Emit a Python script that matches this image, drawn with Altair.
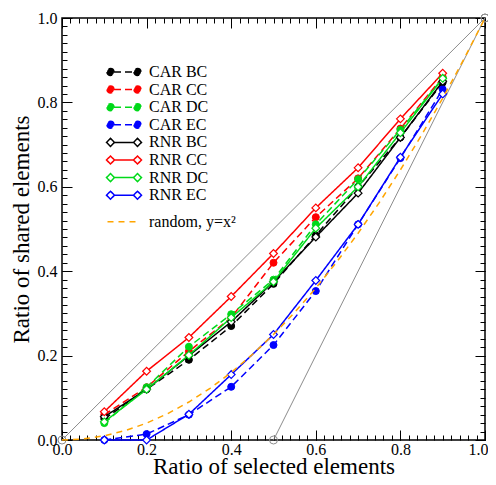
import altair as alt
import pandas as pd

# ---------------- data ----------------
x_vals = [0.1, 0.2, 0.3, 0.4, 0.5, 0.6, 0.7, 0.8, 0.9]
car_bc = [0.05, 0.12, 0.19, 0.27, 0.37, 0.485, 0.60, 0.717, 0.847]
car_cc = [0.06, 0.125, 0.21, 0.29, 0.42, 0.528, 0.62, 0.738, 0.86]
car_dc = [0.04, 0.125, 0.221, 0.298, 0.38, 0.511, 0.618, 0.735, 0.857]
car_ec = [0.0, 0.014, 0.06, 0.126, 0.225, 0.353, 0.511, 0.668, 0.831]
rnr_bc = [0.055, 0.12, 0.20, 0.28, 0.375, 0.481, 0.585, 0.717, 0.85]
rnr_cc = [0.067, 0.163, 0.243, 0.34, 0.442, 0.55, 0.645, 0.761, 0.869]
rnr_dc = [0.043, 0.12, 0.201, 0.29, 0.375, 0.502, 0.60, 0.728, 0.857]
rnr_ec = [0.0, 0.0, 0.061, 0.155, 0.25, 0.378, 0.511, 0.67, 0.82]

rand_x = [0.0, 0.05, 0.1, 0.15, 0.2, 0.25, 0.3, 0.35, 0.4, 0.45, 0.5,
          0.55, 0.6, 0.65, 0.7, 0.75, 0.8, 0.85, 0.9, 0.95, 1.0]
rand_y = [0.0, 0.0025, 0.01, 0.0225, 0.04, 0.0625, 0.09, 0.1225, 0.16, 0.2025, 0.25,
          0.3025, 0.36, 0.4225, 0.49, 0.5625, 0.64, 0.7225, 0.81, 0.9025, 1.0]

ref_names = ["diag", "diag", "steep", "steep"]
ref_x = [0.0, 1.0, 0.5, 1.0]
ref_y = [0.0, 1.0, 0.0, 1.0]

car_names = ["CAR BC", "CAR CC", "CAR DC", "CAR EC"]
rnr_names = ["RNR BC", "RNR CC", "RNR DC", "RNR EC"]
rand_name = "random, y=x\u00b2"
series_names = car_names + rnr_names + [rand_name]

major_ticks = [0.0, 0.2, 0.4, 0.6, 0.8, 1.0]
minor_ticks = [round(i * 0.02, 2) for i in range(51)]

# ---------------- styles ----------------
BLACK, RED, GREEN, BLUE, ORANGE, GREY = "#000000", "#FF0000", "#00D91A", "#0000FF", "#FFA500", "#8C8C8C"
stroke_range = [BLACK, RED, GREEN, BLUE, BLACK, RED, GREEN, BLUE, ORANGE]
fill_range = [BLACK, RED, GREEN, BLUE, "#FFFFFF", "#FFFFFF", "#FFFFFF", "#FFFFFF", "transparent"]
dash_range = [[7, 4]] * 4 + [[1, 0]] * 4 + [[6, 5]]


def circ(cx, r):
    return f"M{cx - r},0A{r},{r},0,1,0,{cx + r},0A{r},{r},0,1,0,{cx - r},0Z"


def diam(cx, d):
    return f"M{cx - d},0L{cx},{-d}L{cx + d},0L{cx},{d}Z"


car_path = "M-2.0,0L2.0,0" + circ(-2.7, 0.7) + circ(2.7, 0.7)
rnr_path = "M-1.9,0L1.9,0" + diam(-2.7, 0.8) + diam(2.7, 0.8)
rand_path = "M0,-2.8M-3.3,0L2.7,0"
shape_range = [car_path] * 4 + [rnr_path] * 4 + [rand_path]

FONT = "Liberation Serif"

# ---------------- tables ----------------
car_df = pd.DataFrame([
    {"series": n, "x": xv, "y": yv}
    for n, ys in zip(car_names, [car_bc, car_cc, car_dc, car_ec])
    for xv, yv in zip(x_vals, ys)
])
rnr_df = pd.DataFrame([
    {"series": n, "x": xv, "y": yv}
    for n, ys in zip(rnr_names, [rnr_bc, rnr_cc, rnr_dc, rnr_ec])
    for xv, yv in zip(x_vals, ys)
])
rand_df = pd.DataFrame({"x": rand_x, "y": rand_y})
ref_df = pd.DataFrame({"line": ref_names, "x": ref_x, "y": ref_y})
legend_df = pd.DataFrame({"series": series_names, "x": [0.5] * 9, "y": [0.5] * 9})

xs = alt.Scale(domain=[0, 1], nice=False, zero=False)
ys = alt.Scale(domain=[0, 1], nice=False, zero=False)
stroke_scale = alt.Scale(domain=series_names, range=stroke_range)
fill_scale = alt.Scale(domain=series_names, range=fill_range)
dash_scale = alt.Scale(domain=series_names, range=dash_range)
shape_scale = alt.Scale(domain=series_names, range=shape_range)

common_label = dict(values=major_ticks, format=".1f", ticks=False, tickSize=0, domain=False,
                    grid=False, labelFlush=False, labelFont=FONT, labelFontSize=16,
                    labelColor="black", titleFont=FONT, titleFontSize=23,
                    titleFontWeight="normal", titleColor="black")

x_label_axis = alt.Axis(
    orient="bottom", labelPadding=1, title="Ratio of selected elements", titlePadding=-2,
    labelAlign={"condition": {"test": "datum.value >= 1", "value": "right"}, "value": "center"},
    labelOffset={"condition": {"test": "datum.value >= 1", "value": 3}, "value": 0},
    **common_label,
)
y_label_axis = alt.Axis(
    orient="left", labelPadding=5, title="Ratio of shared elements", titlePadding=4,
    **common_label,
)


def tick_axis(orient, vals, size):
    return alt.Axis(orient=orient, values=vals, ticks=True, tickSize=size, offset=-size,
                    tickColor="black", tickWidth=1, labels=False, domain=False, grid=False,
                    title=None)


def XE(axis):
    return alt.X("x:Q", scale=xs, axis=axis)


def YE(axis):
    return alt.Y("y:Q", scale=ys, axis=axis)


legend_layer = alt.Chart(legend_df).transform_filter("false").mark_point(opacity=1).encode(
    x=XE(None), y=YE(None),
    shape=alt.Shape("series:N", scale=shape_scale, legend=alt.Legend(title=None)),
    stroke=alt.Stroke("series:N", scale=stroke_scale, legend=alt.Legend(title=None)),
    fill=alt.Fill("series:N", scale=fill_scale, legend=alt.Legend(title=None)),
    strokeDash=alt.StrokeDash("series:N", scale=dash_scale, legend=alt.Legend(title=None)),
)

ref_lines = alt.Chart(ref_df).mark_line(color=GREY, strokeWidth=1).encode(
    x=XE(x_label_axis),
    y=YE(y_label_axis),
    detail="line:N",
)
ref_pts = alt.Chart(ref_df).mark_point(shape="circle", size=64, color=GREY, strokeWidth=1,
                                       opacity=1).encode(x=XE(None), y=YE(None))

car_lines = alt.Chart(car_df).mark_line(strokeWidth=1.5).encode(
    x=XE(tick_axis("bottom", major_ticks, 10)),
    y=YE(tick_axis("left", major_ticks, 10)),
    stroke=alt.Stroke("series:N", scale=stroke_scale),
    strokeDash=alt.StrokeDash("series:N", scale=dash_scale),
)
car_pts = alt.Chart(car_df).mark_point(shape="circle", size=49, strokeWidth=1, opacity=1).encode(
    x=XE(tick_axis("bottom", minor_ticks, 5)),
    y=YE(tick_axis("left", minor_ticks, 5)),
    stroke=alt.Stroke("series:N", scale=stroke_scale),
    fill=alt.Fill("series:N", scale=fill_scale),
)
rnr_lines = alt.Chart(rnr_df).mark_line(strokeWidth=1.5).encode(
    x=XE(tick_axis("top", major_ticks, 10)),
    y=YE(tick_axis("right", major_ticks, 10)),
    stroke=alt.Stroke("series:N", scale=stroke_scale),
    strokeDash=alt.StrokeDash("series:N", scale=dash_scale),
)
rnr_pts = alt.Chart(rnr_df).mark_point(shape="diamond", size=60, strokeWidth=1.2, opacity=1).encode(
    x=XE(tick_axis("top", minor_ticks, 5)),
    y=YE(tick_axis("right", minor_ticks, 5)),
    stroke=alt.Stroke("series:N", scale=stroke_scale),
    fill=alt.Fill("series:N", scale=fill_scale),
)
rand_line = alt.Chart(rand_df).mark_line(color=ORANGE, strokeDash=[6, 5], strokeWidth=1.5).encode(
    x=XE(None), y=YE(None)
)

chart = alt.layer(
    legend_layer, ref_lines, ref_pts, car_lines, car_pts, rnr_lines, rnr_pts, rand_line
).resolve_axis(
    x="independent", y="independent"
).properties(
    width=423, height=422,
    autosize=alt.AutoSizeParams(type="none"),
    padding={"left": 54, "top": 10, "right": 3, "bottom": 37},
    background="white",
).configure_view(
    stroke="black", strokeWidth=1.5
).configure_legend(
    orient="none", legendX=54, legendY=46, padding=0, labelFont=FONT, labelFontSize=16,
    labelColor="black", symbolSize=100, symbolStrokeWidth=1.5, labelOffset=17, rowPadding=1.6,
)

chart.save("out.html", embed_options={"renderer": "svg", "actions": False})
